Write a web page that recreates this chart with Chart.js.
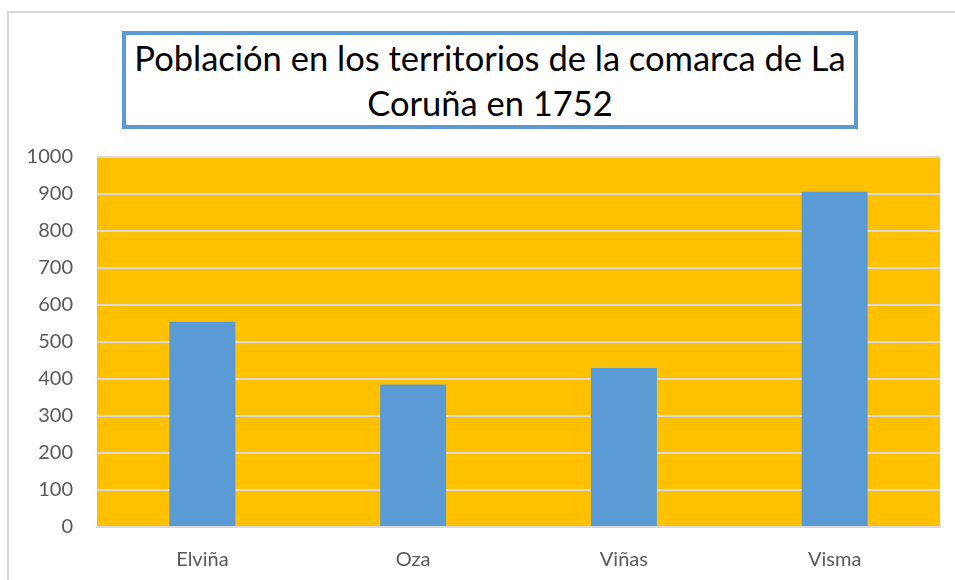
<!DOCTYPE html>
<html>
<head>
<meta charset="utf-8">
<script src="https://cdn.jsdelivr.net/npm/chart.js@4.4.1/dist/chart.umd.min.js"></script>
<style>
    body { margin: 0; background: #ffffff; font-family: Lato, "Open Sans", sans-serif; }
    #wrap { position: relative; width: 955px; height: 580px; overflow: hidden; }
    #frame { position: absolute; left: 7px; top: 11px; width: 1000px; height: 600px; border: 2px solid #d9d9d9; box-sizing: border-box; }
    #chartTitle {
        position: absolute; left: 122px; top: 31px; width: 736px; height: 98px;
        border: 4px solid #5b9bd5; box-sizing: border-box; background: #ffffff;
        text-align: center; font-size: 34.5px; line-height: 45px; color: #000000;
        padding-top: 0;
    }
    canvas { position: absolute; left: 0; top: 0; }
</style>
</head>
<body>
<div id="wrap">
    <div id="frame"></div>
    <canvas id="poblacionChart" width="955" height="580"></canvas>
    <div id="chartTitle">Población en los territorios de la comarca de La<br>Coruña en 1752</div>
</div>
<script>
var territorios = ['Elviña', 'Oza', 'Viñas', 'Visma'];
var poblacion = [555, 385, 430, 906];
var yTicks = [0, 100, 200, 300, 400, 500, 600, 700, 800, 900, 1000];

// orange fill behind the plot area
var plotBackground = {
    id: 'plotBackground',
    beforeDraw: function (chart) {
        var a = chart.chartArea;
        var ctx = chart.ctx;
        ctx.save();
        ctx.fillStyle = '#ffc000';
        ctx.fillRect(a.left, a.top, a.right - a.left, a.bottom - a.top);
        ctx.restore();
    }
};

var ctx = document.getElementById('poblacionChart').getContext('2d');
var poblacionChart = new Chart(ctx, {
    type: 'bar',
    data: {
        labels: territorios,
        datasets: [{
            label: 'Población',
            data: poblacion,
            backgroundColor: '#5b9bd5',
            borderWidth: 0,
            barPercentage: 0.313,
            categoryPercentage: 1
        }]
    },
    options: {
        responsive: false,
        animation: false,
        layout: {
            padding: { top: 157, right: 15, bottom: 0, left: 0 }
        },
        plugins: {
            legend: { display: false },
            title: { display: false },
            tooltip: { enabled: false }
        },
        scales: {
            x: {
                grid: { display: false },
                border: { color: '#d9d9d9', width: 2 },
                ticks: {
                    color: '#595959',
                    padding: 13,
                    font: { family: 'Lato', size: 20 }
                },
                afterFit: function (scale) { scale.height = 53; }
            },
            y: {
                min: 0,
                max: 1000,
                afterBuildTicks: function (scale) {
                    scale.ticks = yTicks.map(v => ({ value: v }));
                },
                grid: { color: '#d9d9d9', lineWidth: 2, drawTicks: false },
                border: { display: false },
                ticks: {
                    color: '#595959',
                    padding: 24,
                    font: { family: 'Lato', size: 20 },
                    callback: function (value) { return String(value); }
                },
                afterFit: function (scale) { scale.width = 97; }
            }
        }
    },
    plugins: [plotBackground]
});
</script>
</body>
</html>
